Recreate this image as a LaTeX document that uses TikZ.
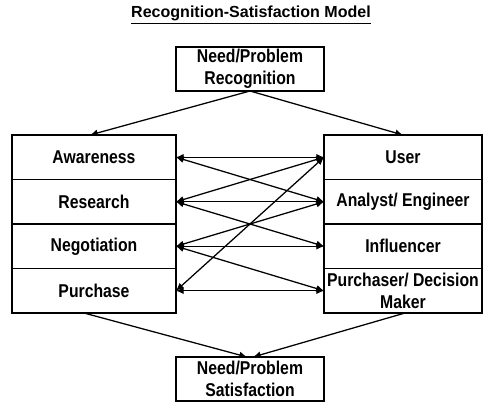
\documentclass[tikz,border=0pt]{standalone}
\usepackage{fontspec}
\setmainfont{Liberation Sans}[FakeStretch=0.85]
\newfontfamily\titlefont{Liberation Sans}
\usetikzlibrary{arrows.meta, positioning}

\begin{document}
\begin{tikzpicture}[>={Latex[length=5.5pt,width=5pt]}, line width=0.9pt,
    box/.style={draw, outer sep=0pt, inner xsep=2pt, inner ysep=0pt, align=center,
        font=\fontsize{13.2}{15.6}\selectfont\bfseries},
    leftbox/.style={box, minimum width=4.1cm, minimum height=1.1125cm},
    rightbox/.style={box, minimum width=3.95cm, minimum height=1.1125cm}]
    \useasboundingbox (0,0) rectangle (12.075,10.1);

    % Title
    \node[font=\titlefont\fontsize{11.4}{13}\selectfont\bfseries] (title) at (6.275,9.72) {\underline{Recognition-Satisfaction Model}};

    % Start and end boxes
    \node[box, minimum width=3.7cm, minimum height=1.1cm] (recog) at (6.25,8.375) {Need/Problem\\Recognition};
    \node[box, minimum width=3.7cm, minimum height=1.1cm] (satis) at (6.25,0.625) {Need/Problem\\Satisfaction};

    % Left column: buying steps
    \node[leftbox] (aware) at (2.35,6.16875) {Awareness};
    \node[leftbox, below=0pt of aware] (research) {Research};
    \node[leftbox, below=0pt of research] (negot) {Negotiation};
    \node[leftbox, below=0pt of negot] (purch) {Purchase};

    % Right column: buyer roles
    \node[rightbox] (user) at (10.075,6.16875) {User};
    \node[rightbox, below=0pt of user] (analyst) {Analyst/ Engineer};
    \node[rightbox, below=0pt of analyst] (influ) {Influencer};
    \node[rightbox, below=0pt of influ] (decider) {Purchaser/ Decision\\Maker};

    % Arrows from recognition into both columns
    \draw[->] (recog.south) -- ([xshift=-0.1cm]aware.north);
    \draw[->] (recog.south) -- (user.north);

    % Links between steps and roles
    \draw[<->] (aware.east) -- (user.west);
    \draw[<->] (aware.east) -- (analyst.west);
    \draw[<->] (research.east) -- (user.west);
    \draw[<->] (research.east) -- (analyst.west);
    \draw[<->] (research.east) -- (influ.west);
    \draw[<->] (negot.east) -- (analyst.west);
    \draw[<->] (negot.east) -- (influ.west);
    \draw[<->] (negot.east) -- (decider.west);
    \draw[<->] (purch.east) -- (user.west);
    \draw[<->] (purch.east) -- (decider.west);

    % Arrows from both columns down to satisfaction
    \draw[->] ([xshift=-0.25cm]purch.south) -- ([xshift=-0.075cm]satis.north);
    \draw[->] ([xshift=0.05cm]decider.south) -- ([xshift=0.075cm]satis.north);
\end{tikzpicture}
\end{document}
